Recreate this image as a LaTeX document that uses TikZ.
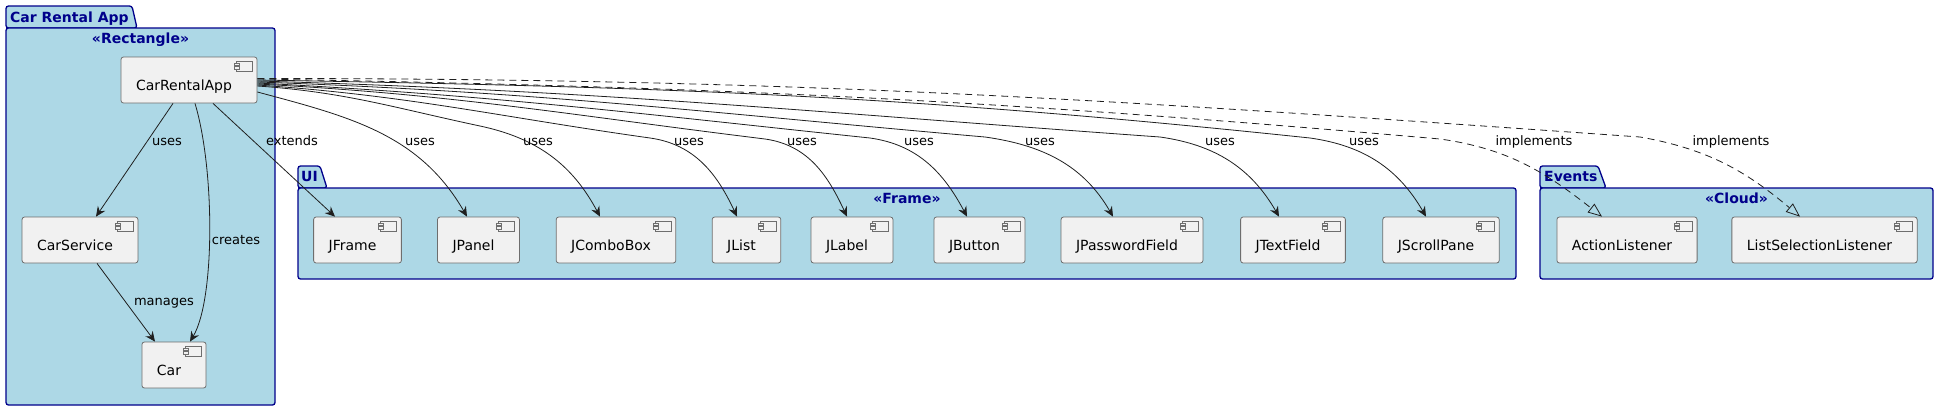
\documentclass[tikz,border=0pt]{standalone}
\usepackage{fontspec}
\setmainfont{DejaVu Sans}
\usepackage{tikz}
\usetikzlibrary{arrows.meta}

\definecolor{pkgfill}{HTML}{ADD8E6}
\definecolor{pkgline}{HTML}{00008B}
\definecolor{compfill}{HTML}{F1F1F1}
\definecolor{compline}{HTML}{6E6E6E}

\tikzset{
  pkg/.style={fill=pkgfill, draw=pkgline, line width=1.3pt},
  pkgtitle/.style={text=pkgline, font=\fontsize{14}{17}\selectfont\bfseries, inner sep=0pt, anchor=base west},
  stereo/.style={text=pkgline, font=\fontsize{14}{17}\selectfont\bfseries, inner sep=0pt, anchor=base},
  compicon/.style={draw=compline, fill=compfill, line width=0.6pt, sharp corners},
  comp/.style={draw=compline, fill=compfill, rounded corners=2.5pt, line width=0.8pt,
    font=\fontsize{14}{17}\selectfont, inner xsep=15pt, minimum height=46pt,
    text height=24pt, text depth=3pt, execute at end node={\hspace*{10pt}},
    path picture={
      \draw[compicon] ([xshift=-21pt, yshift=-4pt]path picture bounding box.north east) rectangle ++(16pt,-10pt);
      \draw[compicon] ([xshift=-23pt, yshift=-6pt]path picture bounding box.north east) rectangle ++(5pt,-2.5pt);
      \draw[compicon] ([xshift=-23pt, yshift=-9.5pt]path picture bounding box.north east) rectangle ++(5pt,-2.5pt);
    }},
  dep/.style={-{Stealth[length=10pt, width=9pt, inset=3.5pt]}, line width=0.8pt, draw=black!88},
  impl/.style={-{Triangle[open, length=14pt, width=11pt]}, dash pattern=on 7pt off 5pt, line width=0.8pt, draw=black!88},
  lbl/.style={font=\fontsize{13}{15}\selectfont, inner sep=0pt, anchor=base},
}

\begin{document}
\begin{tikzpicture}[x=1pt, y=1pt]
        \useasboundingbox (0,0) rectangle (1938,-410);

        % Packages
        \filldraw[pkg, rounded corners=2.5pt] (6,-28) -- (6,-6) -- (132,-6) -- (137,-28) -- cycle;
        \filldraw[pkg, rounded corners=2.5pt] (6,-28) rectangle (275,-405);
        \node[pkgtitle] at (10,-22) {Car Rental App};
        \node[stereo] at (140.5,-43) {«Rectangle»};

        \filldraw[pkg, rounded corners=2.5pt] (298,-188) -- (298,-166) -- (320,-166) -- (327,-188) -- cycle;
        \filldraw[pkg, rounded corners=2.5pt] (298,-188) rectangle (1516,-279);
        \node[pkgtitle] at (301,-181) {UI};
        \node[stereo] at (907,-203.5) {«Frame»};

        \filldraw[pkg, rounded corners=2.5pt] (1540,-188) -- (1540,-166) -- (1598,-166) -- (1606,-188) -- cycle;
        \filldraw[pkg, rounded corners=2.5pt] (1540,-188) rectangle (1933,-279);
        \node[pkgtitle] at (1544,-181) {Events};
        \node[stereo] at (1736.5,-203.5) {«Cloud»};

        % Nodes
        \node[comp] (app) at (189,-80) {CarRentalApp};
        \node[comp] (srv) at (80,-240) {CarService};
        \node[comp] (car) at (174,-365) {Car};

        \node[comp] (jframe) at (357.5,-240) {JFrame};
        \node[comp] (jpanel) at (478.5,-240) {JPanel};
        \node[comp] (jcombo) at (616,-240) {JComboBox};
        \node[comp] (jlist) at (746.5,-240) {JList};
        \node[comp] (jlabel) at (852,-240) {JLabel};
        \node[comp] (jbutton) at (979.5,-240) {JButton};
        \node[comp] (jpass) at (1132,-240) {JPasswordField};
        \node[comp] (jtext) at (1293,-240) {JTextField};
        \node[comp] (jscroll) at (1441,-240) {JScrollPane};

        \node[comp] (al) at (1627,-240) {ActionListener};
        \node[comp] (lsl) at (1824.5,-240) {ListSelectionListener};

        % Edges inside the app
        \draw[dep] ([xshift=-16pt]app.south) -- ([xshift=16pt]srv.north) node[lbl] at (167,-145.5) {uses};
        \draw[dep] ([xshift=6pt]app.south) .. controls (215,-170) and (215,-300) .. ([xshift=16pt]car.north) node[lbl] at (236,-244.5) {creates};
        \draw[dep] ([xshift=17pt]srv.south) -- ([xshift=-19pt]car.north) node[lbl] at (164,-305.5) {manages};

        % Edges to the UI classes
        \draw[dep] ([xshift=24pt]app.south) -- ([xshift=-22.5pt]jframe.north) node[lbl] at (292,-145.5) {extends};
        \draw[dep] ([yshift=-12pt]app.east) to[out=-15, in=120] ([xshift=-11.5pt]jpanel.north) node[lbl] at (420,-145.5) {uses};
        \draw[dep] ([yshift=-6pt]app.east) to[out=-4, in=168] (480,-126) to[out=-12, in=118] ([xshift=-16pt]jcombo.north) node[lbl] at (538,-145.5) {uses};
        \draw[dep] ([yshift=-5pt]app.east) to[out=-4, in=172] (650,-138) to[out=-8, in=115] ([xshift=-9.5pt]jlist.north) node[lbl] at (689,-145.5) {uses};
        \draw[dep] ([yshift=-4pt]app.east) to[out=-3, in=173] (765,-139) to[out=-8, in=115] ([xshift=-5pt]jlabel.north) node[lbl] at (802,-145.5) {uses};
        \draw[dep] ([yshift=-3pt]app.east) to[out=-3, in=174] (870,-138) to[out=-8, in=118] ([xshift=-12.5pt]jbutton.north) node[lbl] at (919,-145.5) {uses};
        \draw[dep] ([yshift=-2pt]app.east) to[out=-2, in=175] (985,-137) to[out=-8, in=120] ([xshift=-19pt]jpass.north) node[lbl] at (1040,-145.5) {uses};
        \draw[dep] ([yshift=-1pt]app.east) .. controls +(350,-10) and +(-350,25) .. (1160,-137) to[out=-8, in=120] ([xshift=-14pt]jtext.north) node[lbl] at (1220,-145.5) {uses};
        \draw[dep] (app.east) .. controls +(410,-7) and +(-408,43) .. (1310,-138) to[out=-8, in=120] ([xshift=-15pt]jscroll.north) node[lbl] at (1364,-145.5) {uses};

        % Edges to the listeners
        \draw[impl] ([yshift=1pt]app.east) .. controls +(460,-8) and +(-458,40) .. (1440,-139) to[out=-8, in=142] ([xshift=-25pt]al.north) node[lbl] at (1534,-145.5) {implements};
        \draw[impl] ([yshift=1.5pt]app.east) .. controls +(540,0) and +(-539,38) .. (1640,-137) to[out=-10, in=140] ([xshift=-24.5pt]lsl.north) node[lbl] at (1731,-145.5) {implements};
\end{tikzpicture}
\end{document}
